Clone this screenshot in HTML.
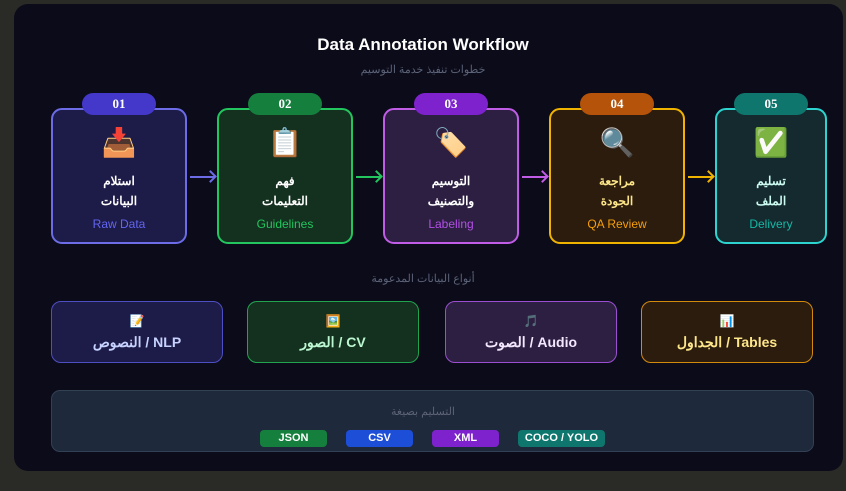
<!DOCTYPE html>
<html><head><meta charset="utf-8"><style>
*{margin:0;padding:0;box-sizing:border-box}
body{width:846px;height:491px;background:#2a2a26;position:relative;overflow:hidden;font-family:"Liberation Sans","Noto Sans CJK SC",sans-serif}
.card{position:absolute;left:14px;top:4px;width:829px;height:467px;background:#0b0b1a;border-radius:14px}
.a{position:absolute}
.t{left:0;width:846px;text-align:center}
.step{position:absolute;top:108px;height:136px;border:2px solid;border-radius:11px;text-align:center}
.badge{position:absolute;top:93px;height:22px;width:74px;border-radius:11px;color:#fff;font:bold 13px "Liberation Serif",serif;text-align:center;line-height:22px}
.icon{position:absolute;top:17px;left:0;right:0;font-size:28px;line-height:32px}
.ar{position:absolute;top:61px;left:0;right:0;color:#fff;font-weight:bold;font-size:12px;line-height:20px}
.en{position:absolute;top:107px;left:0;right:0;font-size:12px}
.arrow{position:absolute;top:176px;height:2px}
.arrow:after{content:"";position:absolute;right:0;top:-4px;width:7px;height:7px;border-top:2px solid;border-right:2px solid;transform:rotate(45deg);border-color:inherit}
.dt{position:absolute;top:301px;width:172px;height:62px;border:1px solid;border-radius:10px;text-align:center}
.dt .i{margin-top:12px;font-size:12px;line-height:14px}
.dt .l{margin-top:6px;font-weight:bold;font-size:14px;direction:rtl}
.pill{position:absolute;top:430px;height:17px;border-radius:4px;color:#fff;font-weight:bold;font-size:11px;text-align:center;line-height:17px}
</style></head><body>
<div class="card"></div>
<div class="a t" style="top:35px;color:#fff;font-weight:bold;font-size:17px">Data Annotation Workflow</div>
<div class="a t" style="top:63px;color:#5c6378;font-size:11px">خطوات تنفيذ خدمة التوسيم</div>

<div class="step" style="left:51px;width:136px;background:#1d1b47;border-color:#6b6ce6"><div class="icon">📥</div><div class="ar">استلام<br>البيانات</div><div class="en" style="color:#6366f1">Raw Data</div></div>
<div class="step" style="left:217px;width:136px;background:#14301f;border-color:#22c55e"><div class="icon">📋</div><div class="ar">فهم<br>التعليمات</div><div class="en" style="color:#22c55e">Guidelines</div></div>
<div class="step" style="left:383px;width:136px;background:#2c1f42;border-color:#c05ce6"><div class="icon">🏷️</div><div class="ar">التوسيم<br>والتصنيف</div><div class="en" style="color:#b350e6">Labeling</div></div>
<div class="step" style="left:549px;width:136px;background:#2c1c0d;border-color:#f0b400"><div class="icon">🔍</div><div class="ar" style="color:#fde68a">مراجعة<br>الجودة</div><div class="en" style="color:#f59e0b">QA Review</div></div>
<div class="step" style="left:715px;width:112px;background:#142a2e;border-color:#2dd4cf"><div class="icon">✅</div><div class="ar" style="color:#ccfbf1">تسليم<br>الملف</div><div class="en" style="color:#14b8a6">Delivery</div></div>

<div class="badge" style="left:82px;background:#4338ca">01</div>
<div class="badge" style="left:248px;background:#15803d">02</div>
<div class="badge" style="left:414px;background:#7e22ce">03</div>
<div class="badge" style="left:580px;background:#b45309">04</div>
<div class="badge" style="left:734px;background:#0f766e">05</div>

<div class="arrow" style="left:190px;width:25px;background:#6b6ce6;border-color:#6b6ce6"></div>
<div class="arrow" style="left:356px;width:25px;background:#22c55e;border-color:#22c55e"></div>
<div class="arrow" style="left:522px;width:25px;background:#c05ce6;border-color:#c05ce6"></div>
<div class="arrow" style="left:688px;width:25px;background:#f0b400;border-color:#f0b400"></div>

<div class="a t" style="top:272px;color:#5c6378;font-size:11px">أنواع البيانات المدعومة</div>
<div class="dt" style="left:51px;background:#1d1b47;border-color:#4f4fc4"><div class="i">📝</div><div class="l" style="color:#c7d2fe">NLP / النصوص</div></div>
<div class="dt" style="left:247px;background:#14301f;border-color:#22a34e"><div class="i">🖼️</div><div class="l" style="color:#bbf7d0">CV / الصور</div></div>
<div class="dt" style="left:445px;background:#2c1f42;border-color:#9b4fd0"><div class="i">🎵</div><div class="l" style="color:#f3e8ff">Audio / الصوت</div></div>
<div class="dt" style="left:641px;background:#2c1c0d;border-color:#d48a0c"><div class="i">📊</div><div class="l" style="color:#fde68a">Tables / الجداول</div></div>

<div class="a" style="left:51px;top:390px;width:763px;height:62px;background:#1e293b;border:1px solid #334155;border-radius:9px"></div>
<div class="a t" style="top:405px;color:#5c6378;font-size:11px">التسليم بصيغة</div>
<div class="pill" style="left:260px;width:67px;background:#15803d">JSON</div>
<div class="pill" style="left:346px;width:67px;background:#1d4ed8">CSV</div>
<div class="pill" style="left:432px;width:67px;background:#7e22ce">XML</div>
<div class="pill" style="left:518px;width:87px;background:#0f766e">COCO / YOLO</div>
</body></html>
